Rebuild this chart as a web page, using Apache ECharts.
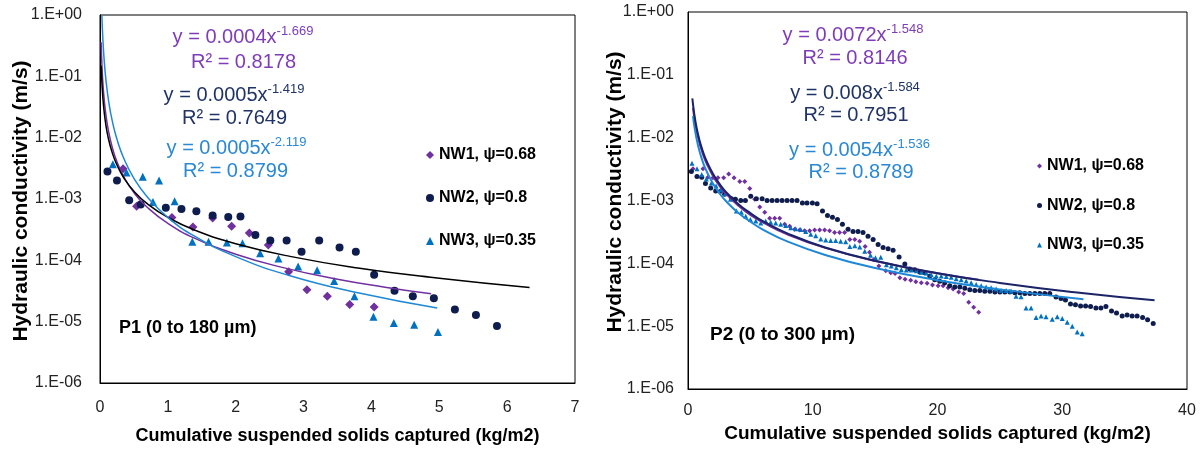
<!DOCTYPE html>
<html><head><meta charset="utf-8">
<script src="https://cdn.jsdelivr.net/npm/echarts@6/dist/echarts.min.js"></script>
<style>html,body{margin:0;padding:0;background:#fff}#c{width:1202px;height:450px}</style>
</head><body><div id="c"></div>
<script>
// ---------- data ----------
const seriesNames = ['NW1, \u03c8=0.68', 'NW2, \u03c8=0.8', 'NW3, \u03c8=0.35'];
const xTitle = 'Cumulative suspended solids captured (kg/m2)';
const yTitle = 'Hydraulic conductivity (m/s)';
const panelTitles = ['P1 (0 to 180 \u00b5m)', 'P2 (0 to 300 \u00b5m)'];

// P1 measured points [x, K]
const p1NW1 = [[0.34,3.1e-3],[0.54,7.6e-4],[1.06,5.0e-4],[1.37,3.5e-4],[1.66,4.9e-4],[1.94,3.6e-4],[2.2,2.8e-4],[2.48,1.78e-4],[2.78,6.5e-5],[3.05,3.3e-5],[3.35,2.6e-5],[3.68,1.9e-5],[4.04,1.74e-5]];
const p1NW2 = [[0.11,2.8e-3],[0.25,2.0e-3],[0.43,9.5e-4],[0.6,8.1e-4],[0.97,7.2e-4],[1.2,6.9e-4],[1.42,6.3e-4],[1.66,5.4e-4],[1.89,5.1e-4],[2.07,5.2e-4],[2.29,2.6e-4],[2.51,2.1e-4],[2.75,2.1e-4],[2.97,1.38e-4],[3.23,2.1e-4],[3.53,1.62e-4],[3.77,1.38e-4],[4.04,5.8e-5],[4.34,3.2e-5],[4.61,2.6e-5],[4.92,2.4e-5],[5.23,1.58e-5],[5.54,1.29e-5],[5.85,8.5e-6]];
const p1NW3 = [[0.19,3.7e-3],[0.39,2.7e-3],[0.63,2.3e-3],[0.87,2.0e-3],[0.78,8.9e-4],[1.1,9.2e-4],[1.36,2.0e-4],[1.6,2.0e-4],[1.87,1.95e-4],[2.1,1.9e-4],[2.36,1.3e-4],[2.63,1.07e-4],[2.92,7.9e-5],[3.2,6.9e-5],[3.45,4.6e-5],[3.75,2.6e-5],[4.03,1.2e-5],[4.33,9.5e-6],[4.63,8.9e-6],[4.98,6.8e-6]];

// P1 power trendlines
const p1FitNW1 = [[0.017,0.36],[0.03,0.139],[0.05,0.0594],[0.08,0.0271],[0.12,0.01377],[0.18,0.0070],[0.25,0.00405],[0.35,0.00231],[0.5,0.00127],[0.7,7.25e-4],[1.0,4.0e-4],[1.4,2.28e-4],[2.0,1.26e-4],[2.7,7.6e-5],[3.5,4.9e-5],[4.2,3.65e-5],[4.88,2.84e-5]];
const p1FitNW2 = [[0.018,0.149],[0.03,0.0725],[0.05,0.0351],[0.08,0.0180],[0.12,0.0101],[0.18,0.0057],[0.25,0.00358],[0.35,0.00222],[0.5,0.00134],[0.7,8.3e-4],[1.0,5.0e-4],[1.4,3.1e-4],[2.0,1.87e-4],[2.8,1.16e-4],[3.8,7.5e-5],[5.0,5.1e-5],[6.33,3.6e-5]];
const p1FitNW3 = [[0.028,0.98],[0.04,0.458],[0.06,0.194],[0.09,0.0822],[0.13,0.0377],[0.18,0.0189],[0.25,0.00943],[0.35,0.00463],[0.5,0.00217],[0.7,0.00107],[1.0,5.0e-4],[1.4,2.45e-4],[2.0,1.15e-4],[2.8,5.6e-5],[3.8,2.95e-5],[4.97,1.67e-5]];

// P2 measured points
const p2NW1 = [[0.4,3.2e-3],[1.2,3.2e-3],[1.6,2.35e-3],[2.0,2.3e-3],[2.4,2.3e-3],[2.86,2.3e-3],[3.26,2.65e-3],[3.69,2.3e-3],[4.15,2.0e-3],[4.55,2.0e-3],[4.95,1.55e-3],[5.35,1.05e-3],[5.75,7.9e-4],[6.15,6.5e-4],[6.55,5.2e-4],[6.95,5.2e-4],[7.35,5.2e-4],[7.75,4.2e-4],[8.15,3.9e-4],[8.55,3.5e-4],[8.95,3.4e-4],[9.35,3.3e-4],[9.75,3.3e-4],[10.15,3.4e-4],[10.55,3.4e-4],[10.95,3.4e-4],[11.35,3.3e-4],[11.75,3.1e-4],[12.15,3.1e-4],[12.55,3.1e-4],[12.97,2.4e-4],[13.37,2.4e-4],[13.76,2.25e-4],[14.2,1.85e-4],[14.55,1.5e-4],[14.9,1.15e-4],[15.3,9.1e-5],[15.85,7.6e-5],[16.25,7.1e-5],[16.6,6.9e-5],[16.98,5.9e-5],[17.4,5.6e-5],[17.85,5.4e-5],[18.26,5.1e-5],[18.7,4.9e-5],[19.17,4.8e-5],[19.6,4.5e-5],[20.05,4.4e-5],[20.45,4.4e-5],[20.85,4.1e-5],[21.25,3.9e-5],[21.7,3.5e-5],[22.1,3.3e-5],[22.5,2.4e-5],[22.9,2.0e-5],[23.3,1.66e-5]];
const p2NW2 = [[0.27,2.9e-3],[0.72,2.4e-3],[1.1,2.35e-3],[1.4,1.86e-3],[1.82,1.58e-3],[2.22,1.41e-3],[2.6,1.4e-3],[2.94,1.26e-3],[3.48,1.07e-3],[3.8,1.05e-3],[4.23,1.0e-3],[4.6,1.0e-3],[5.03,1.17e-3],[5.48,1.07e-3],[5.94,1.07e-3],[6.34,1.0e-3],[6.74,1.0e-3],[7.14,1.0e-3],[7.54,1.0e-3],[7.94,1.0e-3],[8.34,1.0e-3],[8.74,1.0e-3],[9.17,9.1e-4],[9.54,9.1e-4],[9.97,9.1e-4],[10.35,8.9e-4],[10.78,6.8e-4],[11.18,5.75e-4],[11.58,5.4e-4],[11.98,5.0e-4],[12.38,4.2e-4],[12.83,3.5e-4],[13.23,3.2e-4],[13.63,3.2e-4],[14.03,3.1e-4],[14.43,2.7e-4],[14.84,2.4e-4],[15.24,2.0e-4],[15.64,1.78e-4],[16.04,1.7e-4],[16.44,1.62e-4],[16.92,1.26e-4],[17.38,9.8e-5],[17.78,8.1e-5],[18.18,7.9e-5],[18.58,7.3e-5],[18.98,7.1e-5],[19.38,6.3e-5],[19.78,5.5e-5],[20.18,5.2e-5],[20.58,4.9e-5],[20.98,4.4e-5],[21.39,4.2e-5],[21.79,4.2e-5],[22.19,4.0e-5],[22.59,3.8e-5],[22.99,3.7e-5],[23.39,3.7e-5],[23.79,3.6e-5],[24.2,3.6e-5],[24.6,3.5e-5],[25.0,3.5e-5],[25.4,3.5e-5],[25.8,3.5e-5],[26.2,3.4e-5],[26.6,3.4e-5],[27.0,3.3e-5],[27.4,3.3e-5],[27.8,3.3e-5],[28.2,3.3e-5],[28.6,3.3e-5],[29.0,3.3e-5],[29.5,2.9e-5],[29.9,2.75e-5],[30.26,2.6e-5],[30.66,2.25e-5],[31.06,2.2e-5],[31.47,2.1e-5],[31.87,2.1e-5],[32.27,2.05e-5],[32.7,1.95e-5],[33.1,1.95e-5],[33.5,2.05e-5],[33.95,1.74e-5],[34.35,1.62e-5],[34.8,1.45e-5],[35.2,1.51e-5],[35.6,1.45e-5],[36.0,1.45e-5],[36.44,1.38e-5],[36.84,1.26e-5],[37.29,1.1e-5]];
const p2NW3 = [[0.32,3.9e-3],[0.72,3.2e-3],[1.1,2.6e-3],[1.47,2.2e-3],[1.88,1.9e-3],[2.25,1.7e-3],[2.62,1.48e-3],[3.0,1.29e-3],[3.4,1.05e-3],[3.88,6.8e-4],[4.28,6.5e-4],[4.63,5.6e-4],[5.0,5.0e-4],[5.43,4.7e-4],[5.83,4.4e-4],[6.23,4.7e-4],[6.63,4.5e-4],[7.03,4.4e-4],[7.43,4.2e-4],[7.83,4.0e-4],[8.24,3.7e-4],[8.64,3.55e-4],[9.04,3.45e-4],[9.44,3.2e-4],[9.84,2.9e-4],[10.24,2.75e-4],[10.64,2.45e-4],[11.04,2.35e-4],[11.44,2.3e-4],[11.84,2.3e-4],[12.24,2.25e-4],[12.64,2.2e-4],[12.97,1.86e-4],[13.37,1.9e-4],[13.77,1.82e-4],[14.17,1.55e-4],[14.63,1.35e-4],[15.03,1.23e-4],[15.45,1.25e-4],[15.9,9.5e-5],[16.3,9.1e-5],[16.7,8.5e-5],[17.1,7.9e-5],[17.5,7.8e-5],[17.9,7.8e-5],[18.3,7.6e-5],[18.7,7.2e-5],[19.1,7.0e-5],[19.5,6.6e-5],[19.9,6.3e-5],[20.3,6.3e-5],[20.7,6.2e-5],[21.1,6.0e-5],[21.5,5.7e-5],[21.9,5.5e-5],[22.3,5.25e-5],[22.7,4.9e-5],[23.1,4.6e-5],[23.5,4.4e-5],[23.9,4.2e-5],[24.3,4.1e-5],[24.7,3.9e-5],[25.1,3.7e-5],[25.5,3.7e-5],[25.9,3.6e-5],[26.3,3.0e-5],[26.7,2.95e-5],[27.1,1.95e-5],[27.5,1.95e-5],[27.9,1.38e-5],[28.3,1.45e-5],[28.7,1.41e-5],[29.2,1.29e-5],[29.6,1.41e-5],[30.0,1.32e-5],[30.4,1.15e-5],[30.8,1.0e-5],[31.2,8.1e-6],[31.6,7.6e-6]];

// P2 power trendlines
const p2FitNW1 = [[0.4,0.0297],[0.5,0.0211],[0.6,0.0159],[0.7,0.0125],[0.85,0.0093],[1.0,0.0072],[1.25,0.0051],[1.5,0.00385],[2.0,0.00246],[2.5,0.00174],[3.0,0.00131],[4.0,8.4e-4],[5.0,5.9e-4],[6.0,4.5e-4],[8.0,2.88e-4],[11,1.76e-4],[15,1.09e-4],[20,6.97e-5],[23.3,5.5e-5]];
const p2FitNW2 = [[0.35,0.0422],[0.42,0.0317],[0.5,0.0240],[0.6,0.0179],[0.7,0.01407],[0.85,0.0104],[1.0,0.008],[1.25,0.0056],[1.5,0.00421],[2.0,0.00267],[2.5,0.00187],[3.0,0.00140],[4.0,8.9e-4],[5.0,6.3e-4],[6.0,4.68e-4],[8.0,2.97e-4],[11,1.79e-4],[15,1.10e-4],[20,6.95e-5],[25,4.88e-5],[31,3.47e-5],[37.4,2.58e-5]];
const p2FitNW3 = [[0.4,0.0220],[0.5,0.01566],[0.6,0.0119],[0.7,0.00934],[0.85,0.0069],[1.0,0.0054],[1.25,0.0038],[1.5,0.0029],[2.0,0.00186],[2.5,0.00132],[3.0,0.00100],[4.0,6.43e-4],[5.0,4.6e-4],[6.0,3.45e-4],[8.0,2.21e-4],[11,1.36e-4],[15,8.4e-5],[20,5.4e-5],[25,3.85e-5],[31.7,2.67e-5]];

// equation labels: [coefficient part, exponent, R²]
const p1Eq = [['y = 0.0004x','-1.669','R\u00b2 = 0.8178'],['y = 0.0005x','-1.419','R\u00b2 = 0.7649'],['y = 0.0005x','-2.119','R\u00b2 = 0.8799']];
const p2Eq = [['y = 0.0072x','-1.548','R\u00b2 = 0.8146'],['y = 0.008x','-1.584','R\u00b2 = 0.7951'],['y = 0.0054x','-1.536','R\u00b2 = 0.8789']];

// ---------- styling ----------
const FONT = '"Liberation Sans", Arial, Helvetica, sans-serif';
const cPurple = '#7030A0', cNavy = '#0E1C4E', cBlue = '#0070C0';
const eqColors = ['#7E3CB8', '#1F3366', '#2A88D4'];
const p1FitColors = ['#7030A0', '#000000', '#1E88D6'];
const p2FitColors = ['#7030A0', '#1A2466', '#1E88D6'];
const symbols = ['diamond', 'circle', 'triangle'];
const markerColors = [cPurple, cNavy, cBlue];

function logLabel(v) {
  const e = Math.round(Math.log10(v));
  const a = Math.abs(e);
  return '1.E' + (e < 0 ? '-' : '+') + (a < 10 ? '0' : '') + a;
}

const chart = echarts.init(document.getElementById('c'), null, {renderer: 'canvas'});

function xAxisCfg(idx, max, interval, margin, gap, fs) {
  return {
    type: 'value', gridIndex: idx, min: 0, max: max, interval: interval,
    name: xTitle, nameLocation: 'middle', nameGap: gap,
    nameTextStyle: {fontFamily: FONT, fontWeight: 'bold', fontSize: fs, color: '#000'},
    axisLine: {show: true, onZero: false, lineStyle: {color: '#000', width: 1}},
    axisTick: {show: false}, splitLine: {show: false},
    axisLabel: {fontFamily: FONT, fontSize: 16, color: '#222', margin: margin}
  };
}
function yAxisCfg(idx, margin) {
  return {
    type: 'log', logBase: 10, gridIndex: idx, min: 1e-6, max: 1, splitNumber: 6,
    axisLine: {show: true, lineStyle: {color: '#000', width: 1}},
    axisTick: {show: false}, splitLine: {show: false},
    axisLabel: {fontFamily: FONT, fontSize: 16, color: '#222', margin: margin, formatter: logLabel}
  };
}

const series = [];
const p1Pts = [p1NW1, p1NW2, p1NW3], p2Pts = [p2NW1, p2NW2, p2NW3];
const p1Fits = [p1FitNW1, p1FitNW2, p1FitNW3], p2Fits = [p2FitNW1, p2FitNW2, p2FitNW3];
for (let i = 0; i < 3; i++) {
  series.push({type: 'scatter', name: seriesNames[i], xAxisIndex: 0, yAxisIndex: 0, data: p1Pts[i],
    symbol: symbols[i], symbolSize: i === 0 ? 9 : 8, itemStyle: {color: markerColors[i], opacity: 1}, z: 2});
}
for (let i = 0; i < 3; i++) {
  series.push({type: 'line', name: 'fit1_' + i, xAxisIndex: 0, yAxisIndex: 0, data: p1Fits[i],
    showSymbol: false, smooth: 0.5,
    lineStyle: {color: p1FitColors[i], width: 1.5}, itemStyle: {color: p1FitColors[i]}, z: 3});
}
for (let i = 0; i < 3; i++) {
  series.push({type: 'scatter', name: seriesNames[i], xAxisIndex: 1, yAxisIndex: 1, data: p2Pts[i],
    symbol: symbols[i], symbolSize: 5, itemStyle: {color: markerColors[i], opacity: 1}, z: 2});
}
for (let i = 0; i < 3; i++) {
  series.push({type: 'line', name: 'fit2_' + i, xAxisIndex: 1, yAxisIndex: 1, data: p2Fits[i],
    showSymbol: false, smooth: 0.5,
    lineStyle: {color: p2FitColors[i], width: 2}, itemStyle: {color: p2FitColors[i]}, z: i === 1 ? 4 : 3});
}

function eqGraphics(eqs, pos) {
  const out = [];
  eqs.forEach((e, i) => {
    const p = pos[i];
    out.push({type: 'text', x: p[0], y: p[1], silent: true, z: 10,
      style: {text: '{a|' + e[0] + '}{s|' + e[1] + '}', align: 'center', verticalAlign: 'middle',
        fill: eqColors[i], font: '20px ' + FONT,
        rich: {a: {fontFamily: FONT, fontSize: 20, lineHeight: 24, fill: eqColors[i], color: eqColors[i]},
               s: {fontFamily: FONT, fontSize: 13, lineHeight: 13, verticalAlign: 'top', fill: eqColors[i], color: eqColors[i]}}}});
    out.push({type: 'text', x: p[2], y: p[3], silent: true, z: 10,
      style: {text: e[2], align: 'center', verticalAlign: 'middle', fill: eqColors[i], font: '20px ' + FONT}});
  });
  return out;
}

const graphics = []
  .concat(eqGraphics(p1Eq, [[243,37,243.5,62.5],[234,95,234.5,118],[236.5,148,235.5,171]]))
  .concat(eqGraphics(p2Eq, [[853,35,855,58],[855,93,856,115],[859.5,150,861,172]]))
  .concat([
    {type: 'text', x: 21, y: 201, rotation: Math.PI / 2, silent: true,
      style: {text: yTitle, align: 'center', verticalAlign: 'middle', fill: '#000', font: 'bold 21px ' + FONT}},
    {type: 'text', x: 615, y: 192, rotation: Math.PI / 2, silent: true,
      style: {text: yTitle, align: 'center', verticalAlign: 'middle', fill: '#000', font: 'bold 21px ' + FONT}},
    {type: 'text', x: 119, y: 328, silent: true,
      style: {text: panelTitles[0], align: 'left', verticalAlign: 'middle', fill: '#000', font: 'bold 18px ' + FONT}},
    {type: 'text', x: 710, y: 335, silent: true,
      style: {text: panelTitles[1], align: 'left', verticalAlign: 'middle', fill: '#000', font: 'bold 19px ' + FONT}}
  ]);

const legendText = {fontFamily: FONT, fontWeight: 'bold', fontSize: 16, color: '#000', lineHeight: 16};
chart.setOption({
  animation: false,
  backgroundColor: '#fff',
  grid: [
    {left: 100, top: 15, width: 475, height: 369, show: true, borderColor: '#000', borderWidth: 1, backgroundColor: 'transparent'},
    {left: 688, top: 12, width: 499, height: 377, show: true, borderColor: '#000', borderWidth: 1, backgroundColor: 'transparent'}
  ],
  xAxis: [xAxisCfg(0, 7, 1, 17, 44, 18), xAxisCfg(1, 40, 10, 14, 35, 19)],
  yAxis: [yAxisCfg(0, 18), yAxisCfg(1, 14)],
  legend: [
    {data: seriesNames, orient: 'vertical', left: 426, top: 147, padding: 0, itemGap: 27,
      itemWidth: 8, itemHeight: 8, itemTextGap: 4, textStyle: legendText, selectedMode: false},
    {data: seriesNames, orient: 'vertical', left: 1037, top: 158, padding: 0, itemGap: 23.5,
      itemWidth: 5, itemHeight: 5, itemTextGap: 6, textStyle: legendText, selectedMode: false}
  ],
  graphic: graphics,
  series: series
});
</script>
</body></html>
